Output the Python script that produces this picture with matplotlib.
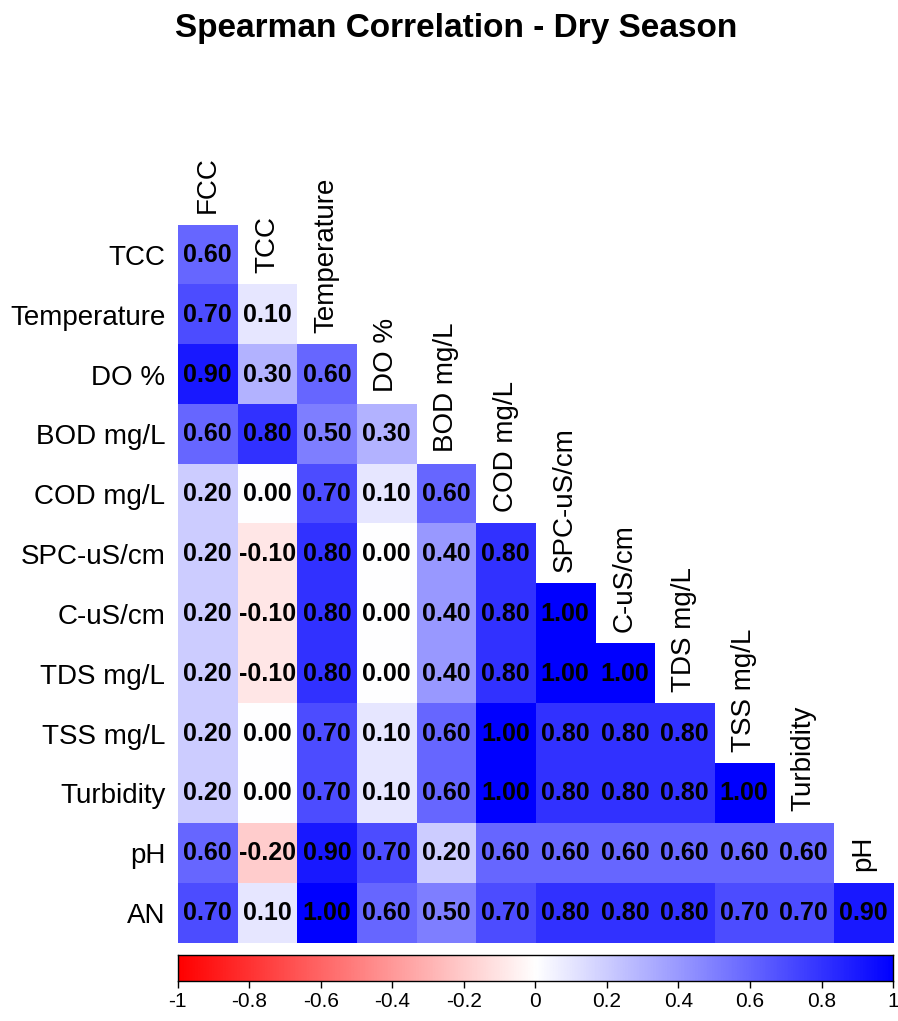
import matplotlib
matplotlib.use("Agg")
import matplotlib.pyplot as plt
import numpy as np
from matplotlib.colors import LinearSegmentedColormap

plt.rcParams["font.family"] = ["Liberation Sans", "DejaVu Sans"]

title = "Spearman Correlation - Dry Season"

col_labels = ["FCC", "TCC", "Temperature", "DO %", "BOD mg/L", "COD mg/L",
              "SPC-uS/cm", "C-uS/cm", "TDS mg/L", "TSS mg/L", "Turbidity", "pH"]
row_labels = ["TCC", "Temperature", "DO %", "BOD mg/L", "COD mg/L", "SPC-uS/cm",
              "C-uS/cm", "TDS mg/L", "TSS mg/L", "Turbidity", "pH", "AN"]

# lower triangle, row by row (values as printed in the cells)
rho_lower = [
    [0.60],
    [0.70, 0.10],
    [0.90, 0.30, 0.60],
    [0.60, 0.80, 0.50, 0.30],
    [0.20, 0.00, 0.70, 0.10, 0.60],
    [0.20, -0.10, 0.80, 0.00, 0.40, 0.80],
    [0.20, -0.10, 0.80, 0.00, 0.40, 0.80, 1.00],
    [0.20, -0.10, 0.80, 0.00, 0.40, 0.80, 1.00, 1.00],
    [0.20, 0.00, 0.70, 0.10, 0.60, 1.00, 0.80, 0.80, 0.80],
    [0.20, 0.00, 0.70, 0.10, 0.60, 1.00, 0.80, 0.80, 0.80, 1.00],
    [0.60, -0.20, 0.90, 0.70, 0.20, 0.60, 0.60, 0.60, 0.60, 0.60, 0.60],
    [0.70, 0.10, 1.00, 0.60, 0.50, 0.70, 0.80, 0.80, 0.80, 0.70, 0.70, 0.90],
]

cbar_ticks = [-1, -0.8, -0.6, -0.4, -0.2, 0, 0.2, 0.4, 0.6, 0.8, 1]

n = len(row_labels)
mat = np.full((n, n), np.nan)
for i, row in enumerate(rho_lower):
    mat[i, :len(row)] = row

cmap = LinearSegmentedColormap.from_list("rwb", ["#FF0000", "#FFFFFF", "#0000FF"])

fig = plt.figure(figsize=(8.98, 10.21), dpi=100)
ax = fig.add_axes([0.198, 0.0764, 0.7965, 0.7033])
ax.imshow(np.ma.masked_invalid(mat), cmap=cmap, vmin=-1, vmax=1,
          aspect="auto", interpolation="nearest", extent=(-0.5, n - 0.5, n - 0.5, -0.5))
ax.set_xlim(-0.5, n - 0.5)
ax.set_ylim(n - 0.5, -0.5)
for s in ax.spines.values():
    s.set_visible(False)
ax.set_xticks([])
ax.set_yticks(range(n))
ax.set_yticklabels(row_labels, fontsize=20)
ax.tick_params(axis="y", length=0, pad=9)

for i, row in enumerate(rho_lower):
    for j, v in enumerate(row):
        ax.text(j, i, f"{v:.2f}", ha="center", va="center",
                fontsize=18, fontweight="bold", color="black")

# column labels sit just above the first cell of each column
for j, lab in enumerate(col_labels):
    ax.text(j, j - 0.5 - 0.2, lab, rotation=90, ha="center", va="bottom",
            fontsize=20, clip_on=False)

cax = fig.add_axes([0.198, 0.0392, 0.7965, 0.0255])
grad = np.linspace(-1, 1, 512).reshape(1, -1)
cax.imshow(grad, cmap=cmap, vmin=-1, vmax=1, aspect="auto", extent=(-1, 1, 0, 1))
cax.set_yticks([])
cax.set_xticks(cbar_ticks)
cax.set_xticklabels([f"{t:g}" for t in cbar_ticks], fontsize=15)
cax.tick_params(axis="x", length=5, width=1, pad=3)
for s in cax.spines.values():
    s.set_linewidth(1)

fig.text(0.508, 0.972, title, ha="center", va="center", fontsize=24, fontweight="bold")

fig.savefig("out.png", dpi=100)
